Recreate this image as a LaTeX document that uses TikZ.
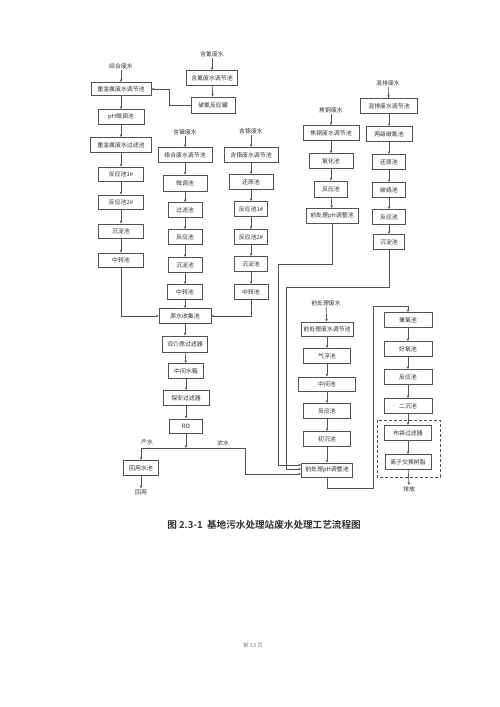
\documentclass[tikz,border=0pt]{standalone}
\usepackage{fontspec}
\newfontfamily\cjk{Noto Sans CJK SC}
\newfontfamily\cjkb{Noto Sans CJK SC Bold}
\usetikzlibrary{arrows.meta}
\definecolor{linec}{gray}{0.32}
\definecolor{txtc}{gray}{0.2}
\tikzset{
  box/.style={draw=linec, line width=0.65pt, minimum height=14pt, inner sep=0pt,
    font=\cjk\fontsize{5.9}{6}\selectfont, text=txtc},
  lbl/.style={inner sep=0.8pt, font=\cjk\fontsize{5.9}{6}\selectfont, text=txtc},
  arr/.style={draw=linec, line width=0.65pt, -{Stealth[length=3pt,width=2.4pt]}},
  ln/.style={draw=linec, line width=0.65pt},
  dashbox/.style={draw=linec, line width=0.65pt, dash pattern=on 3pt off 2pt}
}
\begin{document}
\begin{tikzpicture}[x=1pt,y=-1pt]
\useasboundingbox (0,0) rectangle (500,707);
\fill[white] (0,0) rectangle (500,707);

% column 1
\node[lbl] (l1) at (121,66) {综合废水};
\node[box, minimum width=60pt, minimum height=13pt] (a1) at (121,89) {重金属废水调节池};
\node[box, minimum width=46pt, minimum height=15pt] (a2) at (121,117) {pH微调池};
\node[box, minimum width=61pt, minimum height=15pt] (a3) at (121,145) {重金属废水过滤池};
\node[box, minimum width=45pt] (a4) at (121,174) {反应池1\#};
\node[box, minimum width=45pt] (a5) at (121,202) {反应池2\#};
\node[box, minimum width=45pt] (a6) at (121,231) {沉淀池};
\node[box, minimum width=45pt] (a7) at (121,260) {中转池};
\draw[arr] (l1) -- (a1);
\draw[arr] (a1) -- (a2);
\draw[arr] (a2) -- (a3);
\draw[arr] (a3) -- (a4);
\draw[arr] (a4) -- (a5);
\draw[arr] (a5) -- (a6);
\draw[arr] (a6) -- (a7);

% cyanide
\node[lbl] (l2) at (212,54) {含氰废水};
\node[box, minimum width=51pt, minimum height=15pt] (b1) at (212,78) {含氰废水调节池};
\node[box, minimum width=44pt, minimum height=16pt] (b2) at (213,105) {破氰反应罐};
\draw[arr] (l2) -- (b1);
\draw[arr] (b1) -- (b2);
\draw[arr] (b2.west) -- (169,105) -- (169,89) -- (a1.east);

% column 2 nickel
\node[lbl] (l3) at (185,132) {含镍废水};
\node[box, minimum width=54pt, minimum height=15pt] (c1) at (185,155) {络合废水调节池};
\node[box, minimum width=44pt, minimum height=16pt] (c2) at (185,183) {微调池};
\node[box, minimum width=34pt, minimum height=15pt] (c3) at (185,210) {过滤池};
\node[box, minimum width=34pt, minimum height=15pt] (c4) at (185,237) {反应池};
\node[box, minimum width=34pt, minimum height=15pt] (c5) at (185,265) {沉淀池};
\node[box, minimum width=35pt, minimum height=15pt] (c6) at (185,292) {中转池};
\draw[arr] (l3) -- (c1);
\draw[arr] (c1) -- (c2);
\draw[arr] (c2) -- (c3);
\draw[arr] (c3) -- (c4);
\draw[arr] (c4) -- (c5);
\draw[arr] (c5) -- (c6);

% column 3 chromium
\node[lbl] (l4) at (251,131) {含铬废水};
\node[box, minimum width=54pt, minimum height=15pt] (d1) at (251,155) {含铬废水调节池};
\node[box, minimum width=44pt, minimum height=15pt] (d2) at (251,182) {还原池};
\node[box, minimum width=33pt, minimum height=15pt] (d3) at (251,209) {反应池1\#};
\node[box, minimum width=33pt, minimum height=15pt] (d4) at (251,237) {反应池2\#};
\node[box, minimum width=33pt, minimum height=15pt] (d5) at (251,264) {沉淀池};
\node[box, minimum width=34pt, minimum height=15pt] (d6) at (251,292) {中转池};
\draw[arr] (l4) -- (d1);
\draw[arr] (d1) -- (d2);
\draw[arr] (d2) -- (d3);
\draw[arr] (d3) -- (d4);
\draw[arr] (d4) -- (d5);
\draw[arr] (d5) -- (d6);

% collection and RO
\node[box, minimum width=52pt, minimum height=15pt] (e1) at (185,316) {原水收集池};
\node[box, minimum width=45pt, minimum height=16pt] (e2) at (185,344) {双介质过滤器};
\node[box, minimum width=35pt, minimum height=15pt] (e3) at (186,371) {中间水箱};
\node[box, minimum width=46pt, minimum height=15pt] (e4) at (186,398) {保安过滤器};
\node[box, minimum width=33pt, minimum height=14pt] (e5) at (186,426) {RO};
\draw[arr] (a7.south) -- (121,316) -- (e1.west);
\draw[arr] (c6) -- (e1);
\draw[arr] (d6.south) -- (251,316) -- (e1.east);
\draw[arr] (e1) -- (e2);
\draw[arr] (e2) -- (e3);
\draw[arr] (e3) -- (e4);
\draw[arr] (e4) -- (e5);
\coordinate (sp) at (186,448);
\draw[arr] (e5.south) -- (sp);
\node[lbl] (cs) at (147,442) {产水};
\node[lbl] (ns) at (223,443) {浓水};
\node[box, minimum width=35pt, minimum height=15pt] (f1) at (141,468) {回用水池};
\node[lbl] (l5) at (141,492) {回用};
\draw[arr] (sp) -- (141,448) -- (f1.north);
\draw[arr] (f1) -- (l5);

% pyrophosphate copper column
\node[lbl] (l6) at (331,110) {焦铜废水};
\node[box, minimum width=56pt, minimum height=15pt] (g1) at (331,133) {焦铜废水调节池};
\node[box, minimum width=44pt, minimum height=15pt] (g2) at (331,161) {氧化池};
\node[box, minimum width=33pt, minimum height=16pt] (g3) at (331,189) {反应池};
\node[box, minimum width=52pt, minimum height=15pt] (g4) at (332,216) {前处理pH调整池};
\draw[arr] (l6) -- (g1);
\draw[arr] (g1) -- (g2);
\draw[arr] (g2) -- (g3);
\draw[arr] (g3) -- (g4);

% mixed column
\node[lbl] (l7) at (388,83) {混排废水};
\node[box, minimum width=57pt, minimum height=15pt] (k1) at (389,106) {混排废水调节池};
\node[box, minimum width=46pt, minimum height=15pt] (k2) at (389,134) {两级破氰池};
\node[box, minimum width=33pt, minimum height=15pt] (k3) at (389,162) {还原池};
\node[box, minimum width=33pt, minimum height=15pt] (k4) at (389,190) {破络池};
\node[box, minimum width=33pt, minimum height=15pt] (k5) at (389,217) {反应池};
\node[box, minimum width=31pt, minimum height=15pt] (k6) at (389,242) {沉淀池};
\draw[arr] (l7) -- (k1);
\draw[arr] (k1) -- (k2);
\draw[arr] (k2) -- (k3);
\draw[arr] (k3) -- (k4);
\draw[arr] (k4) -- (k5);
\draw[arr] (k5) -- (k6);

% pretreatment column
\node[lbl] (l8) at (326,303) {前处理废水};
\node[box, minimum width=52pt, minimum height=14pt] (h1) at (327,329) {前处理废水调节池};
\node[box, minimum width=47pt, minimum height=15pt] (h2) at (327,356) {气浮池};
\node[box, minimum width=57pt, minimum height=14pt] (h3) at (327,384) {中间池};
\node[box, minimum width=47pt, minimum height=15pt] (h4) at (327,411) {反应池};
\node[box, minimum width=47pt, minimum height=15pt] (h5) at (327,439) {初沉池};
\node[box, minimum width=51pt, minimum height=14pt] (h6) at (327,470) {前处理pH调整池};
\draw[arr] (l8) -- (h1);
\draw[arr] (h1) -- (h2);
\draw[arr] (h2) -- (h3);
\draw[arr] (h3) -- (h4);
\draw[arr] (h4) -- (h5);
\draw[arr] (h5) -- (h6);

% feeds into h6
\draw[arr] (g4.south) -- (332,264) -- (278,264) -- (278,465) -- (h6.west |- 0,465);
\draw[arr] (k6.south) -- (389,287) -- (286,287) -- (286,469) -- (h6.west |- 0,469);
\draw[arr] (sp) -- (245,448) -- (245,474) -- (h6.west |- 0,474);

% biological column
\node[box, minimum width=48pt, minimum height=15pt] (m1) at (408,320) {兼氧池};
\node[box, minimum width=48pt, minimum height=15pt] (m2) at (408,349) {好氧池};
\node[box, minimum width=48pt, minimum height=15pt] (m3) at (408,377) {反应池};
\node[box, minimum width=48pt, minimum height=15pt] (m4) at (408,406) {二沉池};
\node[box, minimum width=47pt, minimum height=15pt] (m5) at (408,433) {布袋过滤器};
\node[box, minimum width=46pt, minimum height=15pt] (m6) at (408,462) {离子交换树脂};
\node[lbl] (l9) at (409,489) {排放};
\draw[dashbox] (377,420) rectangle (440,477);
\draw[arr] (h6.south) -- (327,488) -- (373,488) -- (373,306) -- (408,306) -- (m1.north);
\draw[arr] (m1) -- (m2);
\draw[arr] (m2) -- (m3);
\draw[arr] (m3) -- (m4);
\draw[arr] (m4) -- (m5);
\draw[arr] (m5) -- (m6);
\draw[arr] (m6) -- (l9);

% caption and footer
\node[inner sep=0pt, font=\cjkb\fontsize{9.6}{11}\selectfont, text=black!80] (cap) at (264,525) {图 2.3-1\ \ 基地污水处理站废水处理工艺流程图};
\node[inner sep=0pt, font=\cjk\fontsize{5.5}{6}\selectfont, text=black!50] (ft) at (253,645) {第\ 13\ 页};
\end{tikzpicture}
\end{document}
